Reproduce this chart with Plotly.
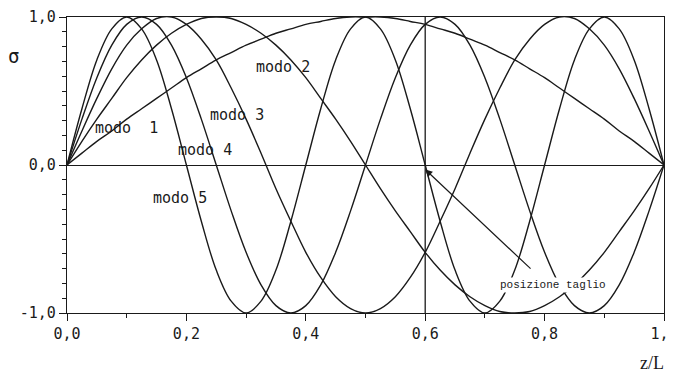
import plotly.graph_objects as go

# z/L sampling positions (step 0.025) and mode shapes
z = [i / 40 for i in range(41)]

modo_1 = [0, .08, .16, .23, .31, .38, .45, .52, .59, .65, .71, .76, .81, .85, .89, .92, .95, .97, .99, 1.0,
          1.0, 1.0, .99, .97, .95, .92, .89, .85, .81, .76, .71, .65, .59, .52, .45, .38, .31, .23, .16, .08, 0]
modo_2 = [0, .16, .31, .45, .59, .71, .81, .89, .95, .99, 1.0, .99, .95, .89, .81, .71, .59, .45, .31, .16,
          0, -.16, -.31, -.45, -.59, -.71, -.81, -.89, -.95, -.99, -1.0, -.99, -.95, -.89, -.81, -.71, -.59,
          -.45, -.31, -.16, 0]
modo_3 = [0, .23, .45, .65, .81, .92, .99, 1.0, .95, .85, .71, .52, .31, .08, -.16, -.38, -.59, -.76, -.89,
          -.97, -1.0, -.97, -.89, -.76, -.59, -.38, -.16, .08, .31, .52, .71, .85, .95, 1.0, .99, .92, .81,
          .65, .45, .23, 0]
modo_4 = [0, .31, .59, .81, .95, 1.0, .95, .81, .59, .31, 0, -.31, -.59, -.81, -.95, -1.0, -.95, -.81, -.59,
          -.31, 0, .31, .59, .81, .95, 1.0, .95, .81, .59, .31, 0, -.31, -.59, -.81, -.95, -1.0, -.95, -.81,
          -.59, -.31, 0]
modo_5 = [0, .38, .71, .92, 1.0, .92, .71, .38, 0, -.38, -.71, -.92, -1.0, -.92, -.71, -.38, 0, .38, .71,
          .92, 1.0, .92, .71, .38, 0, -.38, -.71, -.92, -1.0, -.92, -.71, -.38, 0, .38, .71, .92, 1.0, .92,
          .71, .38, 0]

modes = [modo_1, modo_2, modo_3, modo_4, modo_5]
mode_names = ["modo\u00a0\u00a01", "modo 2", "modo 3", "modo 4", "modo 5"]
label_z = [0.10, 0.362, 0.285, 0.231, 0.189]
label_y = [0.25, 0.66, 0.34, 0.10, -0.22]

taglio_z = 0.6

x_tickvals = [0, 0.2, 0.4, 0.6, 0.8, 1.0]
x_ticktext = ["0,0", "0,2", "0,4", "0,6", "0,8", "1,0"]
y_tickvals = [-1, 0, 1]
y_ticktext = ["-1,0", "0,0", "1,0"]

mono = "DejaVu Sans Mono"
serif = "Liberation Serif"
ink = "#1a1a1a"

fig = go.Figure()

for name, vals in zip(mode_names, modes):
    fig.add_trace(go.Scatter(
        x=z, y=vals, mode="lines", name=name,
        line=dict(color=ink, width=1.4, shape="spline"),
        showlegend=False,
    ))

# cut position
fig.add_shape(type="line", x0=taglio_z, x1=taglio_z, y0=-1, y1=1,
              line=dict(color=ink, width=1.3))

for name, lx, ly in zip(mode_names, label_z, label_y):
    fig.add_annotation(x=lx, y=ly, text=name, showarrow=False,
                       font=dict(family=mono, size=15, color=ink))

fig.add_annotation(x=taglio_z, y=-0.03, ax=0.779, ay=-0.71, axref="x", ayref="y",
                   text="", showarrow=True, arrowhead=2, arrowsize=1.2, arrowwidth=1.2,
                   arrowcolor=ink)
fig.add_annotation(x=0.814, y=-0.81, text="posizione taglio", showarrow=False,
                   bgcolor="white", font=dict(family="Liberation Mono", size=11, color=ink))

fig.add_annotation(xref="paper", yref="paper", x=-0.089, y=0.868, xanchor="center", yanchor="middle",
                   text="σ", showarrow=False, font=dict(family=mono, size=19, color=ink))
fig.add_annotation(xref="paper", yref="paper", x=0.98, y=-0.169, xanchor="center", yanchor="middle",
                   text="z/L", showarrow=False, font=dict(family=serif, size=18, color=ink))

fig.update_xaxes(
    range=[0, 1], tickvals=x_tickvals, ticktext=x_ticktext,
    ticks="outside", ticklen=7, tickcolor=ink, tickwidth=1.2,
    minor=dict(dtick=0.1, ticks="outside", ticklen=4, tickcolor=ink),
    showline=True, linecolor=ink, linewidth=1.4, mirror=True,
    showgrid=False, zeroline=False, automargin=False, ticklabeloverflow="allow",
    tickfont=dict(family=mono, size=15, color=ink),
)
fig.update_yaxes(
    range=[-1, 1], tickvals=y_tickvals, ticktext=y_ticktext,
    ticks="outside", ticklen=7, tickcolor=ink, tickwidth=1.2,
    minor=dict(dtick=0.1, ticks="outside", ticklen=4, tickcolor=ink),
    showline=True, linecolor=ink, linewidth=1.4, mirror=True,
    showgrid=False, zeroline=True, zerolinecolor=ink, zerolinewidth=1.4,
    automargin=False,
    tickfont=dict(family=mono, size=15, color=ink),
)

# page body adds an 8px margin, so the figure is sized to fit the window
fig.update_layout(
    width=668, height=366,
    margin=dict(l=59, r=12, t=9, b=61),
    plot_bgcolor="white", paper_bgcolor="white",
)

fig.write_html("out.html")
